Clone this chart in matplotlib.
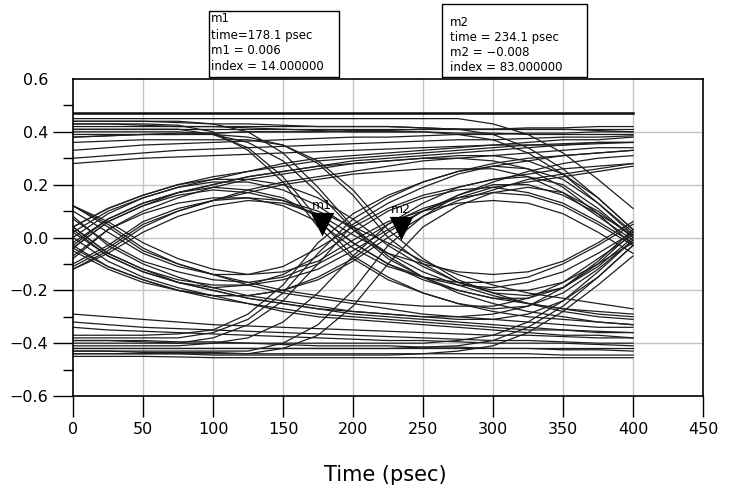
import matplotlib
matplotlib.use("Agg")
import matplotlib.pyplot as plt
from matplotlib.path import Path
from matplotlib.patches import Rectangle
from matplotlib.ticker import FixedLocator

# ---------------- data ----------------
time_ps = [0, 25, 50, 75, 100, 125, 150, 175, 200, 225, 250, 275, 300, 325, 350, 375, 400]

x_ticks = [0, 50, 100, 150, 200, 250, 300, 350, 400, 450]
x_tick_labels = ["0", "50", "100", "150", "200", "250", "300", "350", "400", "450"]
y_ticks = [-0.6, -0.4, -0.2, 0.0, 0.2, 0.4, 0.6]
y_tick_labels = ["\u22120.6", "\u22120.4", "\u22120.2", "0.0", "0.2", "0.4", "0.6"]
y_minor_ticks = [-0.5, -0.3, -0.1, 0.1, 0.3, 0.5]
x_label = "Time (psec)"

# eye-diagram traces, grouped by bit pattern
rails_high = [
    [0.47, 0.47, 0.47, 0.47, 0.47, 0.47, 0.47, 0.47, 0.47, 0.47, 0.47, 0.47, 0.47, 0.47, 0.47, 0.47, 0.47],
    [0.44, 0.44, 0.44, 0.435, 0.43, 0.43, 0.425, 0.42, 0.42, 0.42, 0.415, 0.41, 0.41, 0.41, 0.41, 0.405, 0.40],
    [0.41, 0.41, 0.41, 0.41, 0.41, 0.41, 0.41, 0.41, 0.41, 0.41, 0.41, 0.41, 0.41, 0.41, 0.41, 0.41, 0.41],
    [0.30, 0.31, 0.32, 0.33, 0.335, 0.34, 0.345, 0.35, 0.355, 0.36, 0.365, 0.37, 0.37, 0.375, 0.38, 0.38, 0.385],
    [0.38, 0.385, 0.39, 0.39, 0.395, 0.40, 0.40, 0.40, 0.405, 0.405, 0.41, 0.41, 0.41, 0.415, 0.415, 0.42, 0.42],
    [0.33, 0.34, 0.35, 0.355, 0.36, 0.365, 0.37, 0.375, 0.38, 0.38, 0.385, 0.39, 0.39, 0.395, 0.395, 0.40, 0.40],
    [0.28, 0.29, 0.30, 0.305, 0.31, 0.315, 0.32, 0.325, 0.33, 0.335, 0.34, 0.345, 0.35, 0.35, 0.355, 0.36, 0.36],
    [0.43, 0.43, 0.425, 0.42, 0.42, 0.415, 0.41, 0.405, 0.40, 0.40, 0.40, 0.395, 0.395, 0.39, 0.39, 0.39, 0.39],
]
rails_low = [
    [-0.45, -0.45, -0.45, -0.452, -0.455, -0.455, -0.455, -0.455, -0.455, -0.455, -0.455, -0.455, -0.455, -0.455, -0.455, -0.455, -0.455],
    [-0.42, -0.42, -0.42, -0.42, -0.42, -0.42, -0.42, -0.42, -0.42, -0.42, -0.42, -0.42, -0.42, -0.42, -0.42, -0.42, -0.42],
    [-0.29, -0.30, -0.31, -0.32, -0.33, -0.335, -0.34, -0.345, -0.35, -0.355, -0.36, -0.365, -0.37, -0.37, -0.375, -0.38, -0.38],
    [-0.39, -0.39, -0.395, -0.40, -0.40, -0.40, -0.405, -0.41, -0.41, -0.41, -0.415, -0.415, -0.42, -0.42, -0.425, -0.425, -0.43],
    [-0.34, -0.35, -0.355, -0.36, -0.365, -0.37, -0.375, -0.38, -0.385, -0.39, -0.39, -0.395, -0.40, -0.40, -0.40, -0.405, -0.41],
    [-0.43, -0.43, -0.435, -0.435, -0.435, -0.44, -0.44, -0.44, -0.44, -0.44, -0.44, -0.44, -0.44, -0.44, -0.445, -0.445, -0.445],
    [-0.32, -0.33, -0.34, -0.345, -0.35, -0.355, -0.36, -0.365, -0.37, -0.375, -0.38, -0.385, -0.39, -0.39, -0.395, -0.40, -0.40],
]
rise_stay_high = [
    [0.04, 0.11, 0.16, 0.20, 0.23, 0.25, 0.27, 0.29, 0.30, 0.31, 0.32, 0.33, 0.34, 0.35, 0.35, 0.36, 0.36],
    [-0.04, 0.06, 0.12, 0.17, 0.20, 0.23, 0.25, 0.27, 0.29, 0.30, 0.31, 0.32, 0.33, 0.34, 0.35, 0.355, 0.36],
    [-0.11, -0.04, 0.05, 0.10, 0.14, 0.18, 0.21, 0.23, 0.25, 0.27, 0.29, 0.30, 0.31, 0.32, 0.33, 0.34, 0.34],
    [0.00, 0.09, 0.15, 0.19, 0.22, 0.25, 0.28, 0.30, 0.31, 0.32, 0.33, 0.34, 0.35, 0.36, 0.37, 0.37, 0.38],
]
rise_high_fall = [
    [-0.02, 0.07, 0.13, 0.17, 0.20, 0.23, 0.25, 0.27, 0.28, 0.29, 0.30, 0.30, 0.29, 0.26, 0.19, 0.09, -0.03],
    [-0.08, 0.03, 0.10, 0.15, 0.19, 0.22, 0.24, 0.26, 0.28, 0.29, 0.30, 0.31, 0.31, 0.29, 0.24, 0.15, 0.03],
    [-0.12, -0.05, 0.04, 0.10, 0.14, 0.17, 0.20, 0.22, 0.24, 0.25, 0.26, 0.26, 0.26, 0.23, 0.17, 0.08, -0.01],
]
up_down_up = [
    [-0.03, 0.07, 0.13, 0.17, 0.19, 0.18, 0.15, 0.08, -0.02, -0.10, -0.15, -0.18, -0.19, -0.17, -0.13, -0.06, 0.02],
    [0.04, 0.11, 0.16, 0.20, 0.22, 0.22, 0.20, 0.15, 0.07, -0.03, -0.11, -0.17, -0.20, -0.20, -0.17, -0.10, -0.02],
    [-0.12, -0.06, 0.02, 0.08, 0.12, 0.14, 0.13, 0.09, 0.01, -0.06, -0.10, -0.13, -0.14, -0.13, -0.09, -0.02, 0.06],
    [-0.07, 0.03, 0.09, 0.13, 0.15, 0.15, 0.12, 0.06, -0.04, -0.11, -0.15, -0.17, -0.17, -0.15, -0.10, -0.03, 0.05],
]
up_down_stay = [
    [-0.04, 0.06, 0.12, 0.16, 0.18, 0.17, 0.14, 0.08, -0.02, -0.10, -0.16, -0.20, -0.23, -0.25, -0.27, -0.28, -0.29],
    [-0.10, -0.03, 0.06, 0.11, 0.14, 0.15, 0.14, 0.10, 0.04, -0.02, -0.09, -0.14, -0.18, -0.21, -0.23, -0.25, -0.27],
    [0.02, 0.10, 0.15, 0.19, 0.21, 0.21, 0.18, 0.12, 0.03, -0.06, -0.13, -0.18, -0.22, -0.25, -0.27, -0.29, -0.30],
]
down_up_down = [
    [0.03, -0.07, -0.13, -0.17, -0.19, -0.18, -0.14, -0.07, 0.02, 0.10, 0.15, 0.18, 0.19, 0.17, 0.13, 0.06, -0.02],
    [-0.05, -0.12, -0.17, -0.20, -0.22, -0.22, -0.20, -0.15, -0.08, 0.02, 0.10, 0.16, 0.20, 0.20, 0.16, 0.09, 0.01],
    [0.12, 0.06, -0.02, -0.08, -0.12, -0.14, -0.13, -0.09, -0.01, 0.06, 0.10, 0.13, 0.14, 0.13, 0.09, 0.02, -0.06],
    [0.07, -0.02, -0.09, -0.13, -0.16, -0.17, -0.15, -0.10, -0.03, 0.05, 0.11, 0.15, 0.17, 0.16, 0.12, 0.05, -0.03],
]
down_up_stay = [
    [0.04, -0.06, -0.12, -0.16, -0.18, -0.18, -0.16, -0.12, -0.05, 0.03, 0.10, 0.15, 0.19, 0.21, 0.23, 0.25, 0.27],
    [0.10, 0.02, -0.06, -0.11, -0.14, -0.14, -0.11, -0.04, 0.04, 0.11, 0.16, 0.19, 0.22, 0.24, 0.26, 0.27, 0.28],
    [-0.03, -0.11, -0.16, -0.20, -0.22, -0.22, -0.20, -0.16, -0.09, 0.00, 0.08, 0.14, 0.18, 0.22, 0.24, 0.26, 0.28],
]
fall_stay_low = [
    [-0.04, -0.11, -0.16, -0.20, -0.23, -0.25, -0.27, -0.29, -0.30, -0.31, -0.32, -0.33, -0.34, -0.35, -0.35, -0.36, -0.36],
    [0.04, -0.06, -0.12, -0.17, -0.20, -0.23, -0.25, -0.27, -0.29, -0.30, -0.31, -0.32, -0.33, -0.34, -0.35, -0.355, -0.36],
    [0.12, 0.04, -0.05, -0.10, -0.14, -0.18, -0.21, -0.23, -0.25, -0.27, -0.29, -0.30, -0.31, -0.32, -0.33, -0.34, -0.34],
    [0.00, -0.09, -0.15, -0.19, -0.22, -0.25, -0.28, -0.30, -0.31, -0.32, -0.33, -0.34, -0.35, -0.36, -0.37, -0.37, -0.38],
]
fall_low_rise = [
    [0.02, -0.07, -0.13, -0.17, -0.20, -0.23, -0.25, -0.27, -0.28, -0.29, -0.30, -0.30, -0.29, -0.26, -0.19, -0.09, 0.03],
    [0.08, -0.03, -0.10, -0.15, -0.19, -0.22, -0.24, -0.26, -0.28, -0.29, -0.30, -0.31, -0.31, -0.29, -0.24, -0.15, -0.03],
    [0.12, 0.05, -0.04, -0.10, -0.14, -0.17, -0.20, -0.22, -0.24, -0.25, -0.26, -0.26, -0.26, -0.23, -0.17, -0.08, 0.01],
]
high_fall_stay = [
    [0.40, 0.40, 0.40, 0.40, 0.39, 0.36, 0.29, 0.17, 0.03, -0.08, -0.15, -0.21, -0.25, -0.28, -0.30, -0.32, -0.33],
    [0.43, 0.43, 0.43, 0.425, 0.40, 0.33, 0.21, 0.04, -0.08, -0.16, -0.21, -0.25, -0.28, -0.30, -0.31, -0.32, -0.33],
    [0.36, 0.365, 0.37, 0.37, 0.37, 0.37, 0.35, 0.29, 0.18, 0.03, -0.08, -0.16, -0.21, -0.25, -0.28, -0.30, -0.31],
]
high_fall_rise = [
    [0.41, 0.41, 0.41, 0.41, 0.39, 0.34, 0.23, 0.07, -0.07, -0.15, -0.21, -0.25, -0.27, -0.26, -0.21, -0.12, -0.01],
    [0.38, 0.385, 0.39, 0.39, 0.39, 0.38, 0.35, 0.28, 0.16, 0.00, -0.10, -0.17, -0.21, -0.22, -0.19, -0.11, 0.00],
    [0.44, 0.44, 0.44, 0.44, 0.43, 0.40, 0.32, 0.19, 0.04, -0.07, -0.15, -0.20, -0.23, -0.23, -0.19, -0.10, 0.02],
]
low_rise_stay = [
    [-0.40, -0.40, -0.40, -0.40, -0.38, -0.33, -0.24, -0.10, 0.05, 0.13, 0.19, 0.24, 0.27, 0.29, 0.31, 0.32, 0.33],
    [-0.43, -0.43, -0.43, -0.43, -0.43, -0.43, -0.40, -0.33, -0.20, -0.03, 0.08, 0.16, 0.21, 0.25, 0.28, 0.30, 0.31],
    [-0.37, -0.37, -0.37, -0.365, -0.35, -0.29, -0.18, -0.02, 0.09, 0.16, 0.21, 0.25, 0.28, 0.30, 0.31, 0.32, 0.33],
]
low_rise_fall = [
    [-0.41, -0.41, -0.41, -0.41, -0.40, -0.38, -0.32, -0.21, -0.07, 0.05, 0.13, 0.19, 0.22, 0.23, 0.20, 0.11, 0.00],
    [-0.38, -0.38, -0.38, -0.38, -0.36, -0.31, -0.21, -0.06, 0.07, 0.15, 0.21, 0.25, 0.27, 0.26, 0.22, 0.13, 0.02],
    [-0.44, -0.44, -0.44, -0.44, -0.44, -0.44, -0.42, -0.37, -0.26, -0.10, 0.04, 0.12, 0.17, 0.19, 0.17, 0.10, 0.00],
]
high_late_fall = [
    [0.42, 0.42, 0.42, 0.42, 0.42, 0.42, 0.42, 0.42, 0.42, 0.42, 0.415, 0.41, 0.39, 0.34, 0.26, 0.15, 0.03],
    [0.39, 0.39, 0.39, 0.395, 0.395, 0.40, 0.40, 0.40, 0.40, 0.40, 0.40, 0.39, 0.37, 0.32, 0.24, 0.13, 0.01],
    [0.45, 0.45, 0.45, 0.45, 0.45, 0.45, 0.45, 0.45, 0.45, 0.45, 0.45, 0.45, 0.43, 0.39, 0.32, 0.22, 0.11],
]
low_late_rise = [
    [-0.42, -0.42, -0.42, -0.42, -0.42, -0.42, -0.42, -0.42, -0.42, -0.42, -0.415, -0.41, -0.39, -0.34, -0.26, -0.15, -0.03],
    [-0.39, -0.39, -0.39, -0.395, -0.395, -0.40, -0.40, -0.40, -0.40, -0.40, -0.40, -0.39, -0.37, -0.32, -0.24, -0.13, -0.01],
    [-0.44, -0.44, -0.44, -0.44, -0.445, -0.445, -0.445, -0.445, -0.445, -0.445, -0.44, -0.43, -0.41, -0.36, -0.28, -0.18, -0.07],
]

m1_time, m1_value, m1_index = 178.1, 0.006, 14
m2_time, m2_value, m2_index = 234.1, -0.008, 83

# ---------------- figure ----------------
W, H = 731, 493
fig = plt.figure(figsize=(W / 100, H / 100), dpi=100)
ax = fig.add_axes([73 / W, 1 - 396 / H, 630 / W, 317 / H])

ax.set_xlim(0, 450)
ax.set_ylim(-0.6, 0.6)

# grid
for gx in x_ticks[1:-1]:
    ax.axvline(gx, color="#c4c4c4", lw=1.0, zorder=0)
for gy in y_ticks[1:-1]:
    ax.axhline(gy, color="#c4c4c4", lw=1.0, zorder=0)

groups = [rails_high, rails_low, rise_stay_high, rise_high_fall, up_down_up, up_down_stay,
          down_up_down, down_up_stay, fall_stay_low, fall_low_rise, high_fall_stay,
          high_fall_rise, low_rise_stay, low_rise_fall, high_late_fall, low_late_rise]
for g in groups:
    for tr in g:
        ax.plot(time_ps, tr, color="#1e1e1e", lw=0.9, solid_joinstyle="round", zorder=2)
# heavier top trace
ax.plot(time_ps, rails_high[0], color="#111111", lw=1.8, zorder=2)

# markers: inverted triangle with tip on the data point
tri = Path([(-0.5, 1.0), (0.5, 1.0), (0.0, 0.0), (-0.5, 1.0)],
           [Path.MOVETO, Path.LINETO, Path.LINETO, Path.CLOSEPOLY])
for mt, mv, name in [(m1_time, m1_value, "m1"), (m2_time, m2_value, "m2")]:
    ax.plot([mt], [mv], marker=tri, markersize=34, color="black", mec="black",
            mew=0, zorder=5, clip_on=False)
    ax.annotate(name, (mt, mv), xytext=(0, 22), textcoords="offset points",
                ha="center", va="center", fontsize=9, zorder=6)

# axes styling
for s in ax.spines.values():
    s.set_linewidth(1.2)
    s.set_color("black")
ax.set_xticks(x_ticks)
ax.set_xticklabels(x_tick_labels, fontsize=11.5)
ax.set_yticks(y_ticks)
ax.set_yticklabels(y_tick_labels, fontsize=11.5)
ax.yaxis.set_minor_locator(FixedLocator(y_minor_ticks))
ax.tick_params(axis="x", which="major", direction="out", length=15, width=1.0, pad=4)
ax.tick_params(axis="y", which="major", direction="out", length=14.4, width=1.0, pad=3.5)
ax.tick_params(axis="y", which="minor", direction="out", length=7.2, width=1.0)
ax.yaxis.get_major_ticks()[-1].tick1line.set_visible(False)

fig.text(385 / W, 1 - 475 / H, x_label, ha="center", va="center", fontsize=15)

# marker readout boxes
def readout(x0, y0, x1, y1, tx, ty, lines, step):
    fig.patches.append(Rectangle((x0 / W, 1 - y1 / H), (x1 - x0) / W, (y1 - y0) / H,
                                 transform=fig.transFigure, fill=False,
                                 edgecolor="black", lw=1.0))
    for i, ln in enumerate(lines):
        fig.text(tx / W, 1 - (ty + i * step) / H, ln, ha="left", va="center", fontsize=8.5)

readout(209, 11, 339, 77, 211, 19,
        ["m1", f"time={m1_time} psec", f"m1 = {m1_value:.3f}", f"index = {m1_index:.6f}"], 16)
readout(442, 4, 587, 77, 450, 22,
        ["m2", f"time = {m2_time} psec", f"m2 = \u2212{abs(m2_value):.3f}",
         f"index = {m2_index:.6f}"], 15.3)

fig.savefig("out.png", dpi=100)
